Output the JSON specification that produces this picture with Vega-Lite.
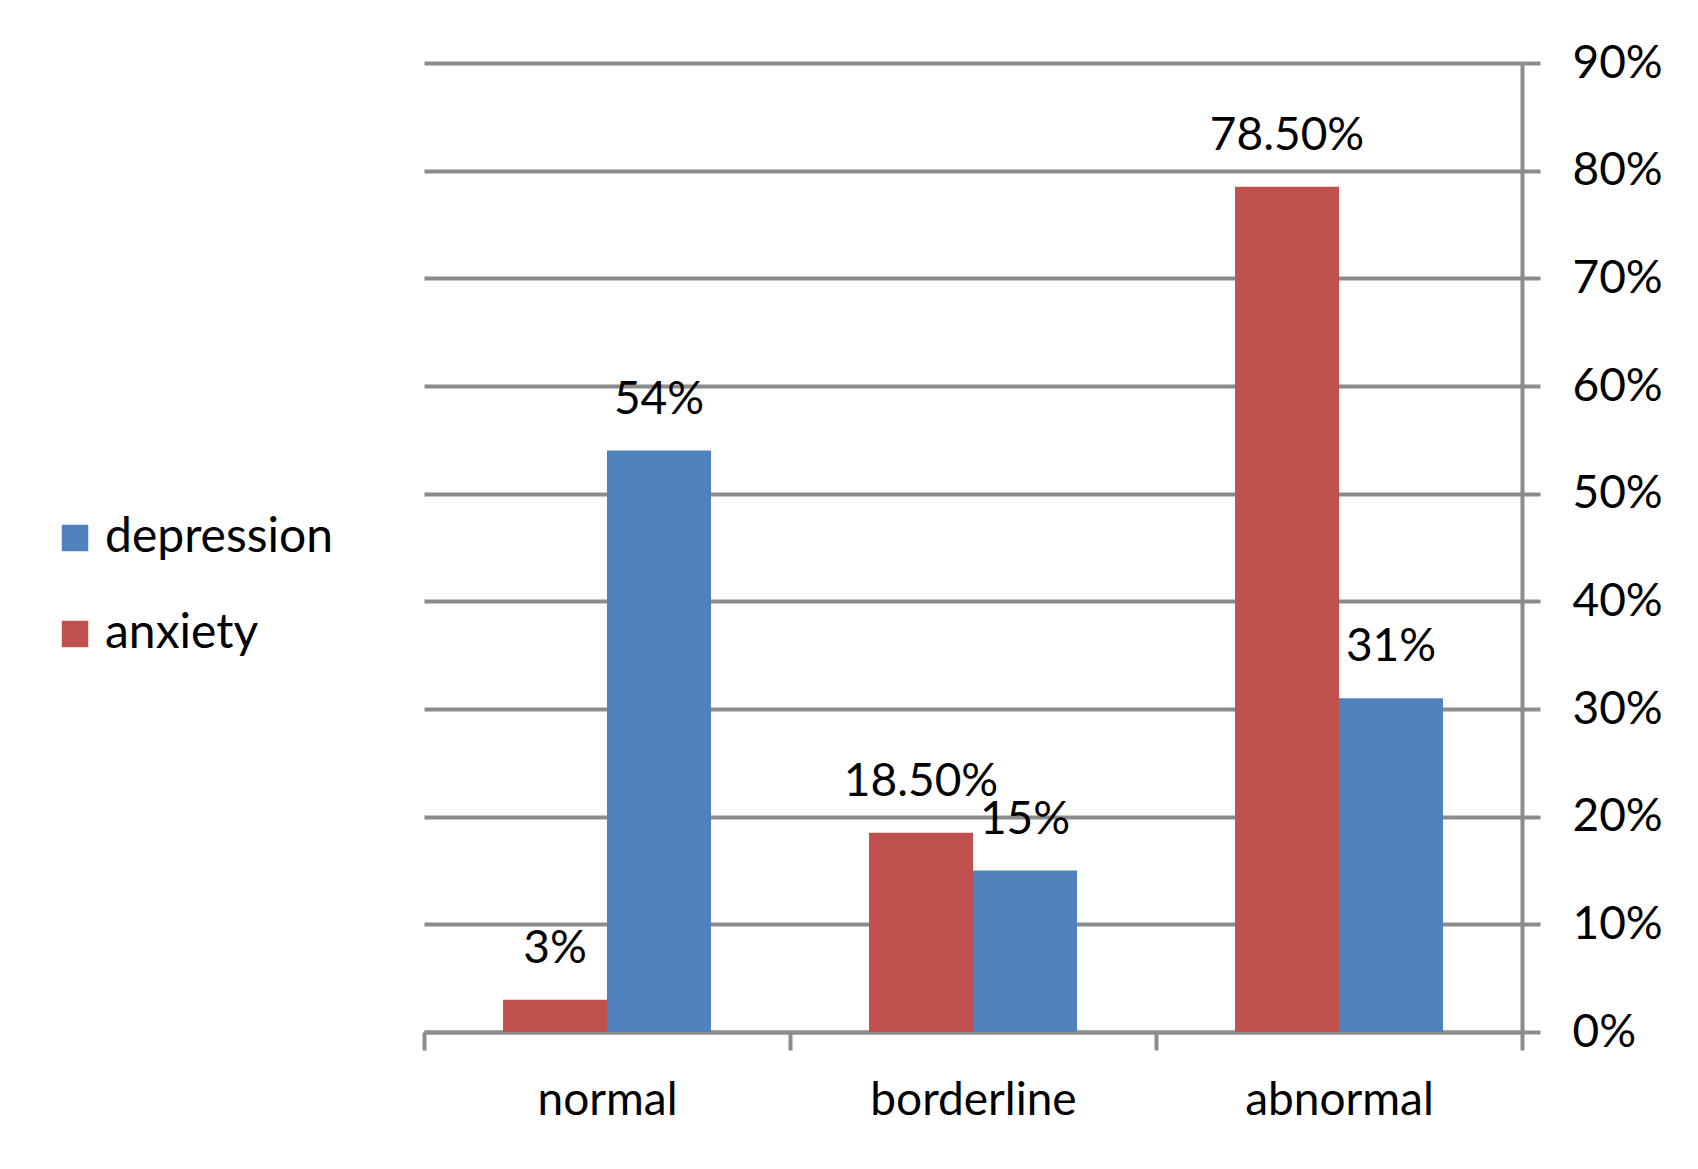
{
  "$schema": "https://vega.github.io/schema/vega-lite/v6.json",
  "width": 1098,
  "height": 969,
  "autosize": {"type": "none"},
  "padding": {"left": 424, "top": 63, "right": 176, "bottom": 137},
  "background": "white",
  "config": {
    "view": {"stroke": null},
    "font": "Lato",
    "axis": {"labelFont": "Lato", "labelColor": "black"},
    "legend": {"labelFont": "Lato", "labelColor": "black"}
  },
  "data": {
    "values": [
      {"category": "normal", "series": "anxiety", "value": 0.03, "label": "3%"},
      {"category": "normal", "series": "depression", "value": 0.54, "label": "54%"},
      {"category": "borderline", "series": "anxiety", "value": 0.185, "label": "18.50%"},
      {"category": "borderline", "series": "depression", "value": 0.15, "label": "15%"},
      {"category": "abnormal", "series": "anxiety", "value": 0.785, "label": "78.50%"},
      {"category": "abnormal", "series": "depression", "value": 0.31, "label": "31%"}
    ]
  },
  "encoding": {
    "x": {
      "field": "category",
      "type": "nominal",
      "sort": ["normal", "borderline", "abnormal"],
      "scale": {"paddingInner": 0, "paddingOuter": 0},
      "axis": {
        "title": null,
        "orient": "bottom",
        "tickBand": "extent",
        "labelAngle": 0,
        "labelLimit": 500,
        "domainColor": "#8c8c8c",
        "domainWidth": 4,
        "tickColor": "#8c8c8c",
        "tickWidth": 4,
        "tickSize": 18,
        "labelFontSize": 46,
        "labelPadding": 28,
        "grid": false
      }
    },
    "xOffset": {
      "field": "series",
      "type": "nominal",
      "sort": ["anxiety", "depression"],
      "scale": {"paddingInner": 0, "paddingOuter": 0.76}
    },
    "y": {
      "field": "value",
      "type": "quantitative",
      "scale": {"domain": [0, 0.9], "nice": false},
      "axis": {
        "title": null,
        "orient": "right",
        "values": [0, 0.1, 0.2, 0.3, 0.4, 0.5, 0.6, 0.7, 0.8, 0.9],
        "format": ".0%",
        "domainColor": "#8c8c8c",
        "domainWidth": 4,
        "tickColor": "#8c8c8c",
        "tickWidth": 4,
        "tickSize": 18,
        "labelFontSize": 46,
        "labelPadding": 32,
        "labelAlign": "left",
        "labelBaseline": "middle",
        "grid": true,
        "gridColor": "#8c8c8c",
        "gridWidth": 4
      }
    }
  },
  "layer": [
    {
      "mark": {"type": "bar"},
      "encoding": {
        "color": {
          "field": "series",
          "type": "nominal",
          "scale": {"domain": ["depression", "anxiety"], "range": ["#4F81BD", "#C0504D"]},
          "legend": {
            "title": null,
            "orient": "none",
            "legendX": -373,
            "legendY": 451,
            "symbolType": "square",
            "symbolSize": 700,
            "symbolStrokeWidth": 0,
            "labelFontSize": 48,
            "labelOffset": 6,
            "labelLimit": 500,
            "rowPadding": 48
          }
        }
      }
    },
    {
      "mark": {"type": "text", "baseline": "alphabetic", "dy": -37, "fontSize": 46, "font": "Lato", "color": "black"},
      "encoding": {"text": {"field": "label"}}
    }
  ]
}
